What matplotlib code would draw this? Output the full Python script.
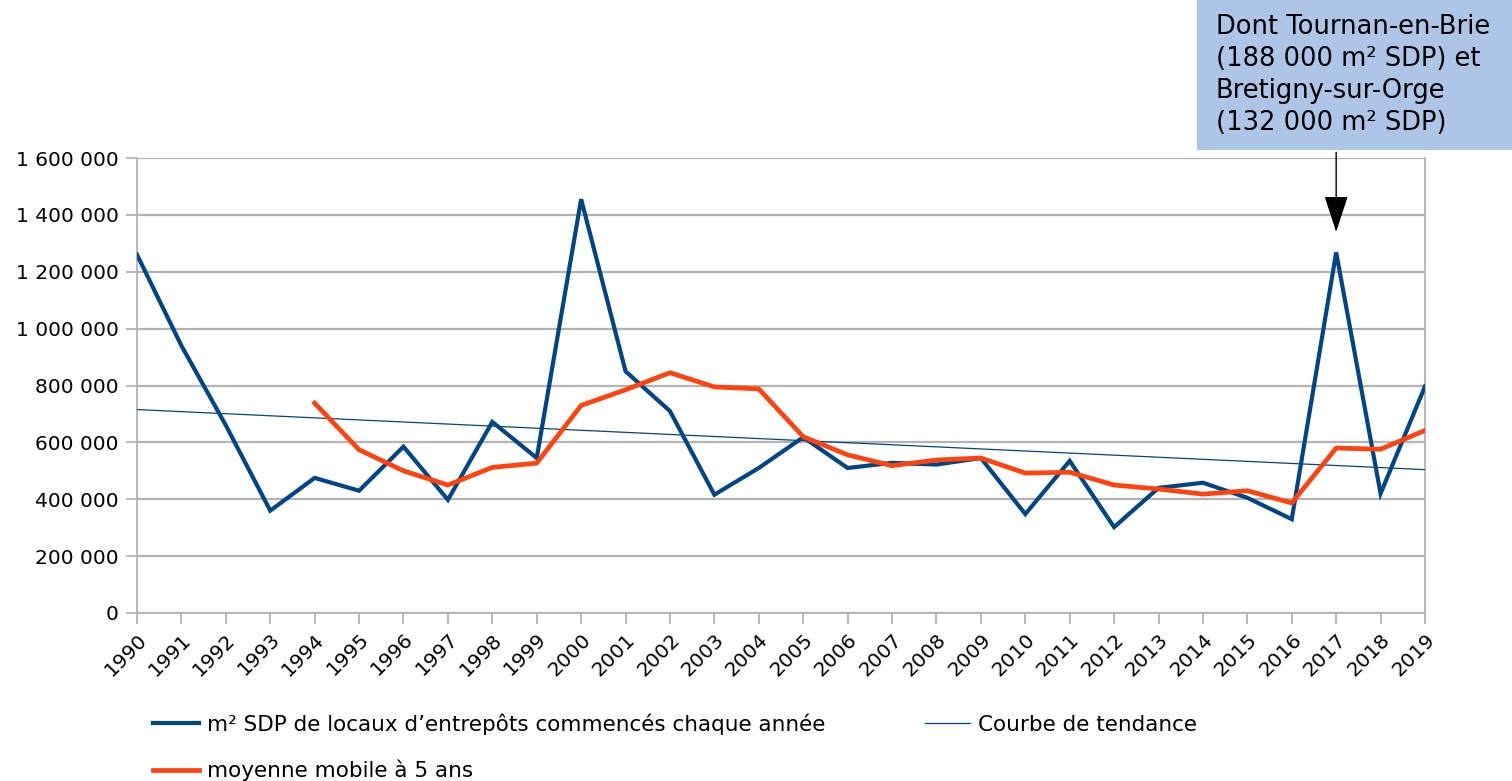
import matplotlib
matplotlib.use("Agg")
import matplotlib.pyplot as plt
import numpy as np
from matplotlib.lines import Line2D
from matplotlib.ticker import FuncFormatter

plt.rcParams['font.family'] = ['DejaVu Sans']

years = list(range(1990, 2020))
surface = [1260000, 940000, 660000, 360000, 475000, 430000, 585000, 398000, 672000, 545000,
           1455000, 850000, 710000, 416000, 510000, 618000, 510000, 528000, 522000, 545000,
           348000, 535000, 302000, 440000, 458000, 405000, 330000, 1268000, 420000, 797000]
ma_years = list(range(1994, 2020))
moving_avg = [738000, 574000, 500000, 450000, 512000, 527000, 730000, 785000, 845000, 795000,
              788000, 620000, 556000, 518000, 538000, 545000, 492000, 495000, 450000, 436000,
              418000, 430000, 387000, 580000, 576000, 642000]
yticks = [0, 200000, 400000, 600000, 800000, 1000000, 1200000, 1400000, 1600000]

label_blue = "m² SDP de locaux d’entrepôts commencés chaque année"
label_trend = "Courbe de tendance"
label_orange = "moyenne mobile à 5 ans"
note = "Dont Tournan-en-Brie\n(188 000 m² SDP) et\nBretigny-sur-Orge\n(132 000 m² SDP)"
note_year = 2017

BLUE = "#004586"
ORANGE = "#ff420e"
GRID = "#b3b3b3"

W, H = 1512, 781
fig = plt.figure(figsize=(W / 100, H / 100), dpi=100)
ax = fig.add_axes([137 / W, 1 - 613 / H, (1425 - 137) / W, (613 - 158) / H])

x = np.arange(len(years))
xm = np.array([years.index(y) for y in ma_years])

coef = np.polyfit(x, surface, 1)
trend = np.polyval(coef, x)

ax.plot(x, trend, color=BLUE, lw=0.9, zorder=3)
ax.plot(x, surface, color=BLUE, lw=3.0, zorder=4, solid_joinstyle='miter')
ax.plot(xm, moving_avg, color=ORANGE, lw=3.4, zorder=5, solid_joinstyle='round')

ax.set_xlim(0, len(years) - 1)
ax.set_ylim(0, 1600000)
ax.set_yticks(yticks)
ax.yaxis.set_major_formatter(FuncFormatter(lambda v, p: f"{int(v):,}".replace(",", " ")))
ax.set_xticks(x)
ax.set_xticklabels([str(y) for y in years], rotation=45, ha='right', va='top',
                   rotation_mode='anchor')
ax.grid(axis='y', color=GRID, lw=1.6)
ax.set_axisbelow(True)
for s in ax.spines.values():
    s.set_color(GRID)
    s.set_linewidth(1.3)
ax.spines['top'].set_visible(False)
ax.tick_params(axis='both', colors=GRID, labelcolor='black', labelsize=14.5, length=8, width=1.3)
ax.tick_params(axis='y', pad=5)
ax.tick_params(axis='x', pad=4)

# annotation
ax.annotate("", xy=(years.index(note_year), 1340000), xycoords='data',
            xytext=(years.index(note_year), 1620000),
            arrowprops=dict(arrowstyle='-|>,head_length=2.3,head_width=0.75', color='black', lw=1,
                            shrinkA=0, shrinkB=0), annotation_clip=False)
fig.patches.append(plt.Rectangle((1197 / W, 1 - 150 / H), (W - 1197) / W, 150 / H,
                                 transform=fig.transFigure, facecolor="#adc5e7",
                                 edgecolor='none', zorder=0))
fig.text(1216 / W, 1 - 14 / H, note, ha='left', va='top', fontsize=18.5, linespacing=1.3)

handles = [Line2D([], [], color=BLUE, lw=3.0), Line2D([], [], color=ORANGE, lw=3.4),
           Line2D([], [], color=BLUE, lw=0.9)]
fig.legend(handles, [label_blue, label_orange, label_trend], ncol=2, frameon=False,
           loc='upper left', bbox_to_anchor=(134 / W, 1 - 694 / H), fontsize=15.5,
           handlelength=2.1, handletextpad=0.4, columnspacing=4.6, labelspacing=1.15)

fig.savefig("out.png", dpi=100)
